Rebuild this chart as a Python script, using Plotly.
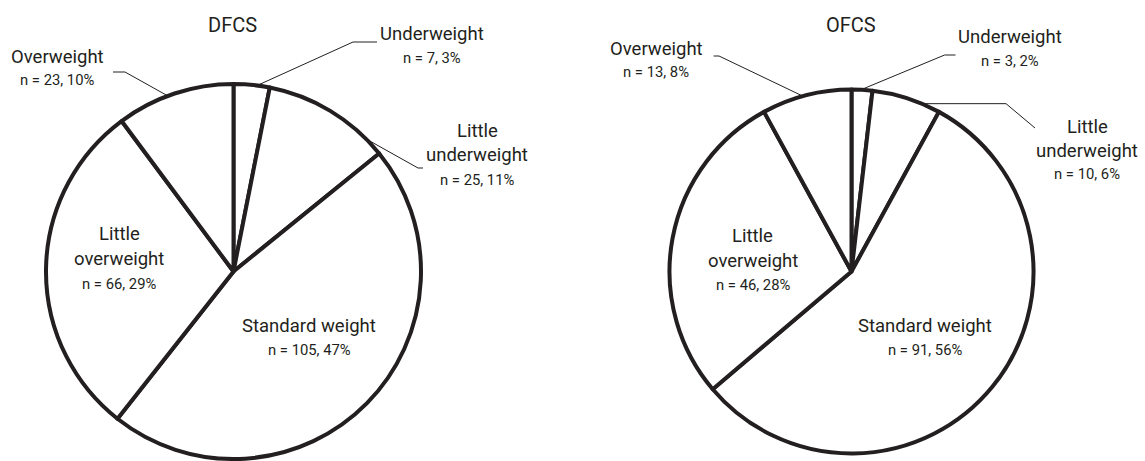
import math
import plotly.graph_objects as go

# ---- data -------------------------------------------------------------
categories = ["Underweight", "Little underweight", "Standard weight",
              "Little overweight", "Overweight"]
group_names = ["DFCS", "OFCS"]
dfcs_counts = [7, 25, 105, 66, 23]
dfcs_pct = [3, 11, 47, 29, 10]
ofcs_counts = [3, 10, 91, 46, 13]
ofcs_pct = [2, 6, 56, 28, 8]

# how each category name is broken across lines
name_lines = {
    "Underweight": ["Underweight"],
    "Little underweight": ["Little", "underweight"],
    "Standard weight": ["Standard weight"],
    "Little overweight": ["Little", "overweight"],
    "Overweight": ["Overweight"],
}

# ---- page geometry (pixels) ---------------------------------------------
W, H = 1145, 461
FONT = "Roboto, Liberation Sans, sans-serif"
INK = "#231f20"
TITLE_SIZE = 20
NAME_SIZE = 18.5
N_SIZE = 14.8

pies = [
    dict(center=(233.5, 271.5), r=187.5, title_baseline=32,
         counts=dfcs_counts, pct=dfcs_pct,
         labels={
             # x centre, line baselines, leader: (fraction along slice, knee, end)
             "Underweight": dict(x=432, base=[40, 63],
                                 leader=(0.65, (353, 42), (377, 42))),
             "Little underweight": dict(x=477, base=[137, 161, 185],
                                        leader=(0.85, (418, 168), (423, 168))),
             "Standard weight": dict(x=309, base=[332, 355]),
             "Little overweight": dict(x=119, base=[240, 265, 289]),
             "Overweight": dict(x=57, base=[63, 85],
                                leader=(0.44, (125, 72), (113, 72))),
         }),
    dict(center=(851.5, 271.5), r=182, title_baseline=32,
         counts=ofcs_counts, pct=ofcs_pct,
         labels={
             "Underweight": dict(x=1010, base=[43, 66],
                                 leader=(0.45, (944.6, 55), (955.5, 55))),
             "Little underweight": dict(x=1087, base=[133, 157, 179],
                                        leader=(0.73, (1006, None), (1035, 128))),
             "Standard weight": dict(x=925, base=[332, 355]),
             "Little overweight": dict(x=752.5, base=[242, 267, 290]),
             "Overweight": dict(x=656, base=[55, 77],
                                leader=(0.46, (719, 56), (713.6, 56))),
         }),
]


def paper_x(x):
    return x / W


def paper_y(y):
    return 1 - y / H


def text_at(x, baseline, text, size):
    # annotations are anchored at their middle; shift up from the baseline
    return dict(x=paper_x(x), y=paper_y(baseline - 0.34 * size),
                xref="paper", yref="paper", xanchor="center", yanchor="middle",
                text=text, showarrow=False,
                font=dict(family=FONT, size=size, color=INK))


fig = go.Figure()
annotations = []
shapes = []

for name, pie in zip(group_names, pies):
    cx, cy = pie["center"]
    r = pie["r"]
    fig.add_trace(go.Pie(
        labels=categories,
        values=pie["counts"],
        sort=False,
        direction="clockwise",
        rotation=0,
        textinfo="none",
        hoverinfo="label+value+percent",
        marker=dict(colors=["white"] * len(categories),
                    line=dict(color=INK, width=4)),
        domain=dict(x=[paper_x(cx - r), paper_x(cx + r)],
                    y=[paper_y(cy + r), paper_y(cy - r)]),
        showlegend=False,
        name=name,
    ))

    annotations.append(text_at(cx - 1, pie["title_baseline"], name, TITLE_SIZE))

    total = sum(pie["counts"])
    start = 0.0
    for cat, n, p in zip(categories, pie["counts"], pie["pct"]):
        spec = pie["labels"][cat]
        lines = name_lines[cat]
        for line, base in zip(lines, spec["base"]):
            annotations.append(text_at(spec["x"], base, line, NAME_SIZE))
        annotations.append(text_at(spec["x"], spec["base"][len(lines)],
                                   f"n = {n}, {p}%", N_SIZE))

        if "leader" in spec:
            frac, knee, end = spec["leader"]
            ang = math.radians(360 * (start + frac * n) / total)
            ax = cx + r * math.sin(ang)
            ay = cy - r * math.cos(ang)
            kx, ky = knee
            if ky is None:
                ky = ay
            ex, ey = end
            shapes.append(dict(
                type="path", xref="paper", yref="paper",
                path=(f"M {paper_x(ax)},{paper_y(ay)} "
                      f"L {paper_x(kx)},{paper_y(ky)} "
                      f"L {paper_x(ex)},{paper_y(ey)}"),
                line=dict(color=INK, width=1),
            ))
        start += n

fig.update_layout(
    width=W, height=H,
    margin=dict(l=0, r=0, t=0, b=0),
    paper_bgcolor="white",
    plot_bgcolor="white",
    annotations=annotations,
    shapes=shapes,
    font=dict(family=FONT, color=INK),
)

fig.write_html("out.html")
